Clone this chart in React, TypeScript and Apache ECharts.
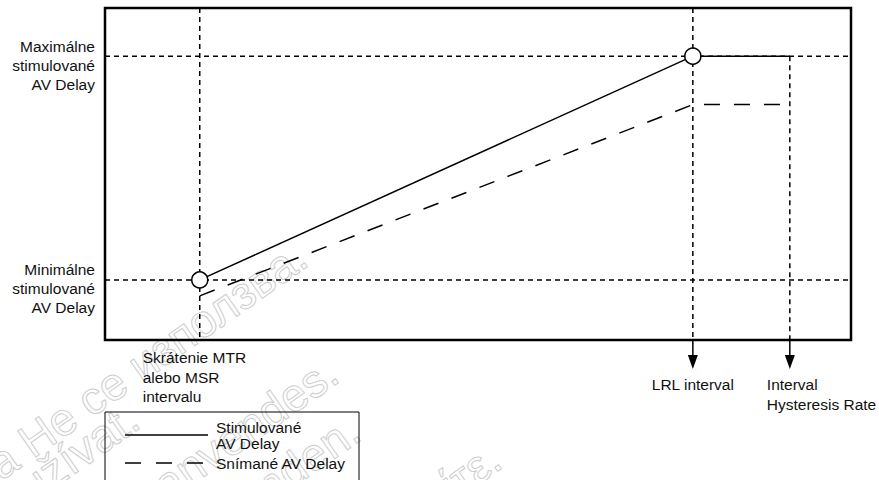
import React, { useEffect, useRef } from 'react';
import * as echarts from 'echarts';

// x positions (abstract interval units) of the three marked intervals
const guideX = [12.7, 78.8, 91.8];
// top end of each vertical guide line
const guideTop = [100, 100, 85.5];
const xLabels = ['Skrátenie MTR\nalebo MSR\nintervalu', 'LRL interval', 'Interval\nHysteresis Rate'];
// min / max paced AV delay levels
const levelY = [18.1, 85.5];
const yLabels = ['Minimálne\nstimulované\nAV Delay', 'Maximálne\nstimulované\nAV Delay'];
// delay curves
const pacedDelay = [18.1, 85.5, 85.5];
const sensedDelay = [13.3, 70.9, 70.9];
const seriesNames = ['Stimulované\nAV Delay', 'Snímané AV Delay'];
const watermarkTexts = [
  'Остаряла версия. Да Не се използва.',
  'Zastaralá verze. Nepoužívat.',
  'Forældet version. Må ikke anvendes.',
  'Veraltete Version. Nicht verwenden.',
  'Παλιά έκδοση. Μην τη χρησιμοποιείτε.',
];

const FONT = '"Liberation Sans", Arial, Helvetica, sans-serif';
const INK = '#111';

export default function App() {
  const ref = useRef<HTMLDivElement>(null);
  useEffect(() => {
    if (!ref.current) return;
    const chart = echarts.init(ref.current, undefined, { renderer: 'svg' });

    const wmEnds = [
      [305, 262],
      [137, 424],
      [336, 378],
      [358, 436],
      [499, 464],
    ];
    const deg = 35;
    const rot = (deg * Math.PI) / 180;
    const down = 10;
    const watermarks = watermarkTexts.map((t, i) => ({
      type: 'text',
      x: wmEnds[i][0] + 4 + down * Math.sin(rot),
      y: wmEnds[i][1] + down * Math.cos(rot),
      rotation: rot,
      z: -10,
      silent: true,
      style: {
        text: t,
        fontSize: 46,
        fontFamily: FONT,
        fill: 'rgba(0,0,0,0)',
        stroke: '#cdcdcd',
        lineWidth: 1,
        align: 'right',
        verticalAlign: 'bottom',
      },
    }));

    const legend = [
      {
        type: 'rect',
        shape: { x: 105, y: 412, width: 254, height: 90 },
        style: { fill: 'rgba(0,0,0,0)', stroke: '#000', lineWidth: 1 },
        z: 5,
      },
      {
        type: 'line',
        shape: { x1: 125, y1: 435, x2: 208, y2: 435 },
        style: { stroke: '#000', lineWidth: 1.5 },
        z: 5,
      },
      {
        type: 'text',
        x: 216,
        y: 419,
        z: 5,
        style: {
          text: seriesNames[0],
          fontSize: 15.5,
          fontFamily: FONT,
          fill: INK,
          lineHeight: 16,
          align: 'left',
          verticalAlign: 'top',
        },
      },
      {
        type: 'line',
        shape: { x1: 125, y1: 463, x2: 208, y2: 463 },
        style: { stroke: '#000', lineWidth: 1.5, lineDash: [16, 15] },
        z: 5,
      },
      {
        type: 'text',
        x: 216,
        y: 463,
        z: 5,
        style: {
          text: seriesNames[1],
          fontSize: 15.5,
          fontFamily: FONT,
          fill: INK,
          align: 'left',
          verticalAlign: 'middle',
        },
      },
    ];

    const labelOffsets = [
      { dx: -57, dy: 8, align: 'left' },
      { dx: 0, dy: 35, align: 'center' },
      { dx: -23, dy: 35, align: 'left' },
    ];

    chart.setOption({
      animation: false,
      backgroundColor: '#fff',
      grid: {
        left: 105,
        top: 8,
        width: 746,
        height: 332,
        containLabel: false,
        outerBoundsMode: 'none',
        show: true,
        borderColor: '#000',
        borderWidth: 2.5,
        backgroundColor: 'rgba(0,0,0,0)',
      },
      xAxis: {
        type: 'value',
        min: 0,
        max: 100,
        axisLine: { show: false },
        axisTick: { show: false },
        axisLabel: { show: false },
        splitLine: { show: false },
      },
      yAxis: {
        type: 'value',
        min: 0,
        max: 100,
        axisLine: { show: false },
        axisTick: { show: false },
        axisLabel: { show: false },
        splitLine: { show: false },
      },
      graphic: [...watermarks, ...legend],
      series: [
        {
          name: 'hGuides',
          type: 'custom',
          z: 1,
          silent: true,
          data: levelY.map((y) => [0, y]),
          encode: { x: 0, y: 1 },
          renderItem: (params: any, api: any) => {
            const i = params.dataIndex;
            const y = api.value(1);
            const a = api.coord([0, y]);
            const b = api.coord([100, y]);
            return {
              type: 'group',
              children: [
                {
                  type: 'line',
                  shape: { x1: a[0], y1: a[1], x2: b[0], y2: b[1] },
                  style: { stroke: '#000', lineWidth: 1.5, lineDash: [5, 4] },
                },
                {
                  type: 'text',
                  x: a[0] - 10,
                  y: a[1] - 19.5,
                  style: {
                    text: yLabels[i],
                    fontSize: 15.5,
                    fontFamily: FONT,
                    fill: INK,
                    lineHeight: 19,
                    align: 'right',
                    verticalAlign: 'top',
                  },
                },
              ],
            };
          },
        },
        {
          name: 'vGuides',
          type: 'custom',
          z: 1,
          silent: true,
          data: guideX.map((x, i) => [x, guideTop[i]]),
          encode: { x: 0, y: 1 },
          renderItem: (params: any, api: any) => {
            const x = api.value(0);
            const top = api.value(1);
            const i = params.dataIndex;
            const p1 = api.coord([x, top]);
            const p0 = api.coord([x, 0]);
            const children: any[] = [
              {
                type: 'line',
                shape: { x1: p1[0], y1: p1[1], x2: p0[0], y2: p0[1] },
                style: { stroke: '#000', lineWidth: 1.5, lineDash: [5, 4] },
              },
              {
                type: 'text',
                x: p0[0] + labelOffsets[i].dx,
                y: p0[1] + labelOffsets[i].dy,
                style: {
                  text: xLabels[i],
                  fontSize: 15.5,
                  fontFamily: FONT,
                  fill: INK,
                  lineHeight: 19.5,
                  align: labelOffsets[i].align,
                  verticalAlign: 'top',
                },
              },
            ];
            if (i > 0) {
              children.push({
                type: 'line',
                shape: { x1: p0[0], y1: p0[1], x2: p0[0], y2: p0[1] + 17 },
                style: { stroke: '#000', lineWidth: 1.5 },
              });
              children.push({
                type: 'polygon',
                shape: {
                  points: [
                    [p0[0] - 5, p0[1] + 15],
                    [p0[0] + 5, p0[1] + 15],
                    [p0[0], p0[1] + 29],
                  ],
                },
                style: { fill: '#000' },
              });
            }
            return { type: 'group', children };
          },
        },
        {
          name: seriesNames[1],
          type: 'line',
          z: 3,
          silent: true,
          symbol: 'none',
          data: guideX.map((x, i) => [x, sensedDelay[i]]),
          lineStyle: { color: '#000', width: 1.5, type: [16, 14] },
        },
        {
          name: seriesNames[0],
          type: 'line',
          z: 4,
          silent: true,
          symbol: 'circle',
          symbolSize: 16,
          showAllSymbol: true,
          data: guideX.map((x, i) =>
            i < 2 ? { value: [x, pacedDelay[i]] } : { value: [x, pacedDelay[i]], symbol: 'none' }
          ),
          lineStyle: { color: '#000', width: 1.5 },
          itemStyle: { color: '#fff', borderColor: '#000', borderWidth: 1.5 },
        },
      ],
    });
    return () => chart.dispose();
  }, []);
  return <div ref={ref} style={{ width: 879, height: 480, position: 'absolute', left: 0, top: 0 }} />;
}
